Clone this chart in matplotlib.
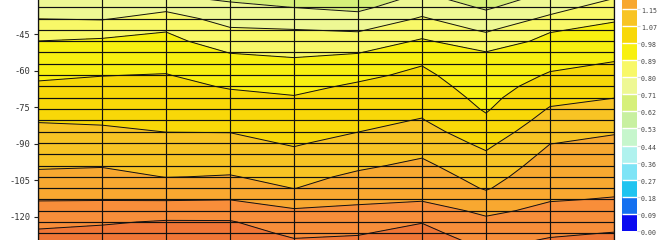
import matplotlib
matplotlib.use('Agg')
import matplotlib.pyplot as plt
import numpy as np
from matplotlib.transforms import ScaledTranslation

plt.rcParams['font.family'] = ['DejaVu Sans Mono']

# grid columns (x index) and data rows (y values)
x_cols = [0, 1, 2, 3, 4, 5, 6, 7, 8, 9]
y_rows = [-29.40, -34.04, -38.68, -43.32, -47.96, -52.59, -57.23, -61.87,
          -66.51, -71.15, -75.79, -80.43, -85.07, -89.70, -94.34, -98.98,
          -103.62, -108.26, -112.90, -117.54, -122.18, -126.82, -131.45]

# field values per column, top row to bottom row
z_col0 = [0.733, 0.766, 0.799, 0.845, 0.891, 0.916, 0.941, 0.967, 0.992, 1.017, 1.041, 1.066,
          1.086, 1.104, 1.123, 1.141, 1.167, 1.201, 1.235, 1.272, 1.310, 1.342, 1.367]
z_col1 = [0.723, 0.758, 0.793, 0.854, 0.902, 0.927, 0.953, 0.978, 0.999, 1.020, 1.041, 1.061,
          1.082, 1.103, 1.124, 1.145, 1.174, 1.205, 1.236, 1.278, 1.322, 1.351, 1.376]
z_col2 = [0.716, 0.779, 0.834, 0.885, 0.912, 0.936, 0.960, 0.983, 1.000, 1.018, 1.035, 1.052,
          1.069, 1.089, 1.109, 1.130, 1.148, 1.192, 1.234, 1.289, 1.337, 1.362, 1.388]
z_col3 = [0.689, 0.729, 0.769, 0.809, 0.849, 0.888, 0.917, 0.945, 0.974, 0.998, 1.021, 1.044,
          1.068, 1.089, 1.110, 1.131, 1.154, 1.196, 1.238, 1.289, 1.336, 1.361, 1.386]
z_col4 = [0.663, 0.709, 0.756, 0.802, 0.839, 0.876, 0.907, 0.933, 0.960, 0.985, 1.004, 1.024,
          1.044, 1.063, 1.084, 1.106, 1.128, 1.148, 1.201, 1.249, 1.283, 1.317, 1.346]
z_col5 = [0.639, 0.690, 0.741, 0.792, 0.840, 0.887, 0.925, 0.963, 0.991, 1.011, 1.030, 1.050,
          1.069, 1.092, 1.115, 1.138, 1.164, 1.194, 1.225, 1.257, 1.291, 1.325, 1.352]
z_col6 = [0.725, 0.766, 0.808, 0.855, 0.900, 0.938, 0.976, 0.997, 1.016, 1.035, 1.054, 1.074,
          1.097, 1.119, 1.142, 1.165, 1.188, 1.210, 1.233, 1.276, 1.327, 1.354, 1.379]
z_col7 = [0.655, 0.699, 0.744, 0.788, 0.843, 0.893, 0.909, 0.925, 0.940, 0.956, 0.972, 0.994,
          1.023, 1.052, 1.078, 1.100, 1.121, 1.143, 1.180, 1.223, 1.258, 1.287, 1.316]
z_col8 = [0.731, 0.770, 0.816, 0.883, 0.912, 0.937, 0.962, 0.988, 1.018, 1.048, 1.076, 1.101,
          1.125, 1.148, 1.167, 1.184, 1.201, 1.218, 1.235, 1.260, 1.290, 1.320, 1.347]
z_col9 = [0.790, 0.836, 0.881, 0.910, 0.934, 0.959, 0.985, 1.013, 1.041, 1.069, 1.094, 1.120,
          1.145, 1.163, 1.178, 1.194, 1.210, 1.226, 1.244, 1.274, 1.304, 1.333, 1.358]

levels = [0.00, 0.09, 0.18, 0.27, 0.36, 0.44, 0.53, 0.62, 0.71, 0.80, 0.89, 0.98,
          1.07, 1.15, 1.24, 1.33, 1.42, 1.50, 1.59]
# colour-bar labels visible in the picture
cbar_ticks = [0.00, 0.09, 0.18, 0.27, 0.36, 0.44, 0.53, 0.62, 0.71,
              0.80, 0.89, 0.98, 1.07, 1.15]
cbar_labels = ['0.00', '0.09', '0.18', '0.27', '0.36', '0.44', '0.53', '0.62', '0.71',
               '0.80', '0.89', '0.98', '1.07', '1.15']
band_colors = ['#0a0af0', '#1470f0', '#20c4f0', '#7ee4f6', '#b0f2ee', '#c6f6cc',
               '#c8f0a0', '#d6f07a', '#eef894', '#f8f868', '#f8f010', '#f8d808',
               '#f8c424', '#f8a830', '#f88e3a', '#f07636', '#e85a30', '#e03c28']
y_ticks = [-45, -60, -75, -90, -105, -120]

Z = np.array([z_col0, z_col1, z_col2, z_col3, z_col4, z_col5,
              z_col6, z_col7, z_col8, z_col9]).T
X, Y = np.meshgrid(x_cols, y_rows)

fig = plt.figure(figsize=(6.6, 2.4), dpi=100)
ax = fig.add_axes([38 / 660, -4.6 / 240, 576 / 660, 248.6 / 240])

cf = ax.contourf(X, Y, Z, levels=levels, colors=band_colors)
ax.contour(X, Y, Z, levels=levels, colors='#111111', linewidths=0.7)

ax.set_xlim(x_cols[0], x_cols[-1])
ax.set_ylim(y_rows[-1], y_rows[0])
ax.set_xticks([])
ax.set_yticks(y_ticks)
ax.set_yticklabels([str(t) for t in y_ticks])
ax.set_xticks(x_cols, minor=True)
ax.set_yticks(y_rows, minor=True)
ax.set_axisbelow(False)
ax.grid(which='minor', color='#111111', linewidth=0.85)
ax.grid(which='major', visible=False)
ax.tick_params(which='minor', length=0)
ax.tick_params(axis='y', which='major', length=3.2, width=0.8, pad=2.4,
               labelsize=6.3, labelcolor='#333333', color='#222222')
for s in ['top', 'bottom']:
    ax.spines[s].set_visible(False)
for s in ['left', 'right']:
    ax.spines[s].set_color('#111111')
    ax.spines[s].set_linewidth(0.9)

nb = len(levels) - 1
cax = fig.add_axes([622 / 660, 9 / 240, 15 / 660, nb * 17.1 / 240])
cb = fig.colorbar(cf, cax=cax, ticks=cbar_ticks, drawedges=True)
cb.set_ticklabels(cbar_labels)
cb.outline.set_visible(False)
cb.dividers.set_color('white')
cb.dividers.set_linewidth(1.0)
cax.tick_params(length=2, width=0.8, color='#d8d8d8', pad=0.8,
                labelsize=4.8, labelcolor='#444444')
off = ScaledTranslation(0, -1.5 / 100, fig.dpi_scale_trans)
for lab in cax.get_yticklabels():
    lab.set_transform(lab.get_transform() + off)

fig.savefig('out.png', dpi=100)
